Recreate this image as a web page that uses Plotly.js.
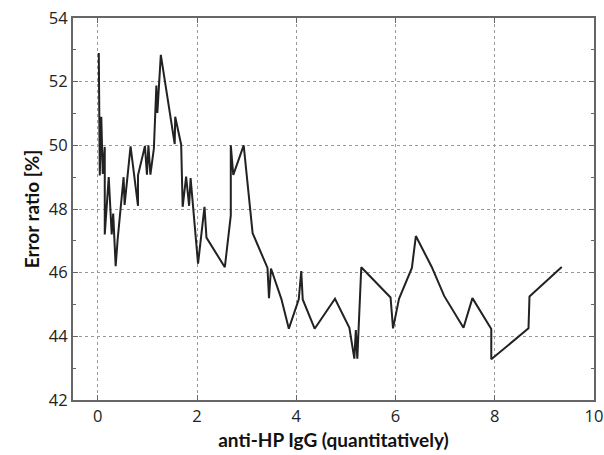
<!DOCTYPE html>
<html>
<head>
<meta charset="utf-8">
<script src="https://cdn.plot.ly/plotly-3.0.1.min.js"></script>
<style>html,body{margin:0;padding:0;background:#fff;}#chart{width:604px;height:455px;}</style>
</head>
<body>
<div id="chart"></div>
<script>
const xValues = [0.02, 0.04, 0.07, 0.10, 0.14, 0.14, 0.22, 0.28, 0.31, 0.36, 0.40, 0.52, 0.54, 0.66, 0.81, 0.81, 0.95, 0.99, 1.02, 1.06, 1.13, 1.18, 1.20, 1.27, 1.55, 1.56, 1.68, 1.71, 1.78, 1.84, 1.87, 2.02, 2.15, 2.19, 2.56, 2.68, 2.68, 2.73, 2.94, 3.12, 3.42, 3.45, 3.49, 3.70, 3.85, 4.05, 4.10, 4.13, 4.37, 4.78, 5.07, 5.17, 5.20, 5.23, 5.31, 5.90, 5.95, 6.07, 6.33, 6.41, 6.73, 6.98, 7.37, 7.55, 7.93, 7.93, 8.68, 8.70, 9.35];
const errorRatio = [52.9, 49.05, 50.9, 49.1, 49.95, 47.2, 49.0, 47.2, 47.86, 46.2, 47.05, 49.0, 48.13, 49.97, 48.1, 49.06, 49.98, 49.08, 50.0, 49.08, 49.9, 51.88, 51.02, 52.84, 50.04, 50.9, 50.02, 48.07, 49.02, 48.1, 48.97, 46.28, 48.07, 47.1, 46.17, 47.8, 50.0, 49.07, 50.0, 47.24, 46.15, 45.2, 46.13, 45.17, 44.24, 45.16, 46.05, 45.16, 44.24, 45.18, 44.27, 43.3, 44.2, 43.3, 46.17, 45.22, 44.25, 45.18, 46.15, 47.15, 46.18, 45.27, 44.27, 45.2, 44.23, 43.28, 44.25, 45.25, 46.18];
const xTicks = [0, 2, 4, 6, 8, 10];
const yTicks = [42, 44, 46, 48, 50, 52, 54];
const xTitle = 'anti-HP IgG (quantitatively)';
const yTitle = 'Error ratio [%]';

const tickFont = {family: '"Open Sans", "DejaVu Sans", sans-serif', size: 16.5, color: '#222'};
const titleFont = {family: 'Lato, "Open Sans", sans-serif', size: 19, color: '#111', weight: 700};

const trace = {
  x: xValues, y: errorRatio, type: 'scatter', mode: 'lines',
  line: {color: '#222', width: 2}, hoverinfo: 'skip'
};

const layout = {
  width: 604, height: 455,
  margin: {l: 73, r: 10, t: 18, b: 55},
  paper_bgcolor: '#fff', plot_bgcolor: '#fff',
  showlegend: false,
  xaxis: {
    range: [-0.5, 10.0001], tickvals: xTicks, ticktext: xTicks.map(String),
    showgrid: true, gridcolor: '#999', griddash: 'dot', gridwidth: 1,
    zeroline: false, showline: true, linecolor: '#666', linewidth: 2, mirror: 'ticks',
    ticks: 'inside', ticklen: 5, tickcolor: '#666', tickwidth: 1,
    tickfont: tickFont, ticklabeloverflow: 'allow',
    title: {text: xTitle, font: titleFont, standoff: 8}
  },
  yaxis: {
    range: [42, 54], tickvals: yTicks, ticktext: yTicks.map(String),
    showgrid: true, gridcolor: '#999', griddash: 'dot', gridwidth: 1,
    zeroline: false, showline: true, linecolor: '#666', linewidth: 2, mirror: 'ticks',
    ticks: 'inside', ticklen: 5, tickcolor: '#666', tickwidth: 1,
    minor: {dtick: 1, ticks: 'inside', ticklen: 3, tickcolor: '#666', showgrid: false},
    tickfont: tickFont,
    title: {text: yTitle, font: titleFont, standoff: 4}
  }
};

Plotly.newPlot('chart', [trace], layout, {displayModeBar: false, staticPlot: true});
</script>
</body>
</html>
